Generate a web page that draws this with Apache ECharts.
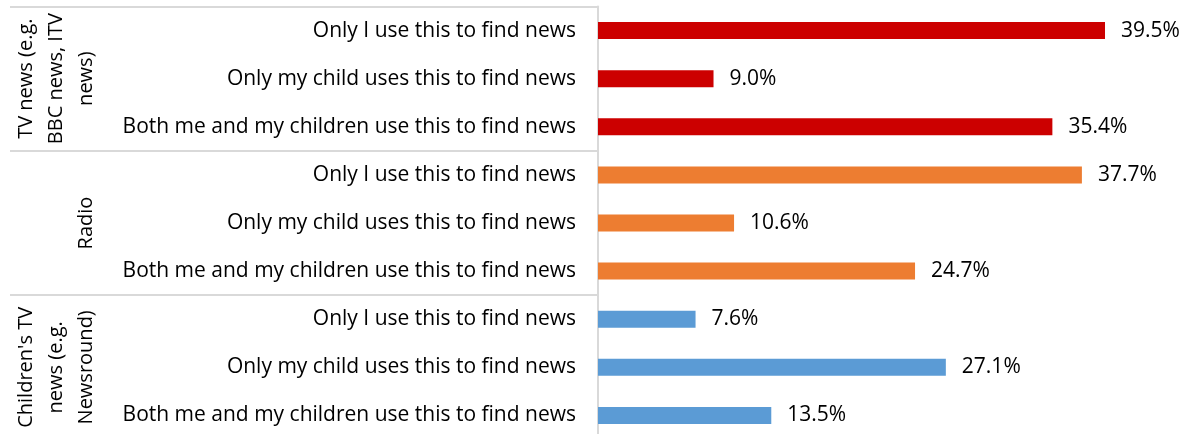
<!DOCTYPE html>
<html>
<head>
<meta charset="utf-8">
<script src="https://cdn.jsdelivr.net/npm/echarts@6/dist/echarts.min.js"></script>
<style>
  html, body { margin: 0; padding: 0; background: #ffffff; overflow: hidden; }
  #chart { width: 1191px; height: 446px; }
</style>
</head>
<body>
<div id="chart"></div>
<script>
// Who in the household uses each news source
const groups = ['TV news (e.g.\nBBC news, ITV\nnews)', 'Radio', "Children's TV\nnews (e.g.\nNewsround)"];
const groupColors = ['#CC0000', '#ED7D31', '#5B9BD5'];
const answers = [
  'Only I use this to find news',
  'Only my child uses this to find news',
  'Both me and my children use this to find news'
];
const tvNews = [39.5, 9.0, 35.4];
const radio = [37.7, 10.6, 24.7];
const childrensTv = [7.6, 27.1, 13.5];

const groupValues = [tvNews, radio, childrensTv];

// Flatten groups into one category list, one bar per row
const categories = [];
const barData = [];
groupValues.forEach((vals, g) => {
  vals.forEach((v, i) => {
    categories.push(answers[i]);
    barData.push({ value: v, itemStyle: { color: groupColors[g] } });
  });
});

const FONT = '"Open Sans", sans-serif';
const chart = echarts.init(document.getElementById('chart'));

chart.setOption({
  animation: false,
  backgroundColor: '#ffffff',
  grid: { left: 598, top: 6.5, width: 577.6, height: 433, containLabel: false },
  xAxis: {
    type: 'value', min: 0, max: 45, show: false
  },
  yAxis: [
    {
      type: 'category',
      data: categories,
      inverse: true,
      axisLine: { show: false },
      axisTick: { show: false },
      axisLabel: {
        margin: 22, fontFamily: FONT, fontSize: 21, color: '#000000'
      }
    },
    {
      type: 'category',
      data: groups,
      inverse: true,
      position: 'left',
      axisLine: { show: true, lineStyle: { color: '#d9d9d9', width: 2 } },
      axisTick: {
        show: true, length: 588, interval: 0,
        lineStyle: { color: '#d9d9d9', width: 2 }
      },
      axisLabel: {
        interval: 0, rotate: 90, margin: 497,
        fontFamily: FONT, fontSize: 20, lineHeight: 30, color: '#000000', align: 'center'
      }
    }
  ],
  series: [{
    type: 'bar',
    yAxisIndex: 0,
    data: barData,
    barWidth: 17,
    label: {
      show: true, position: 'right', distance: 16,
      fontFamily: FONT, fontSize: 21, color: '#000000',
      formatter: p => p.value.toFixed(1) + '%'
    }
  }]
});
</script>
</body>
</html>
